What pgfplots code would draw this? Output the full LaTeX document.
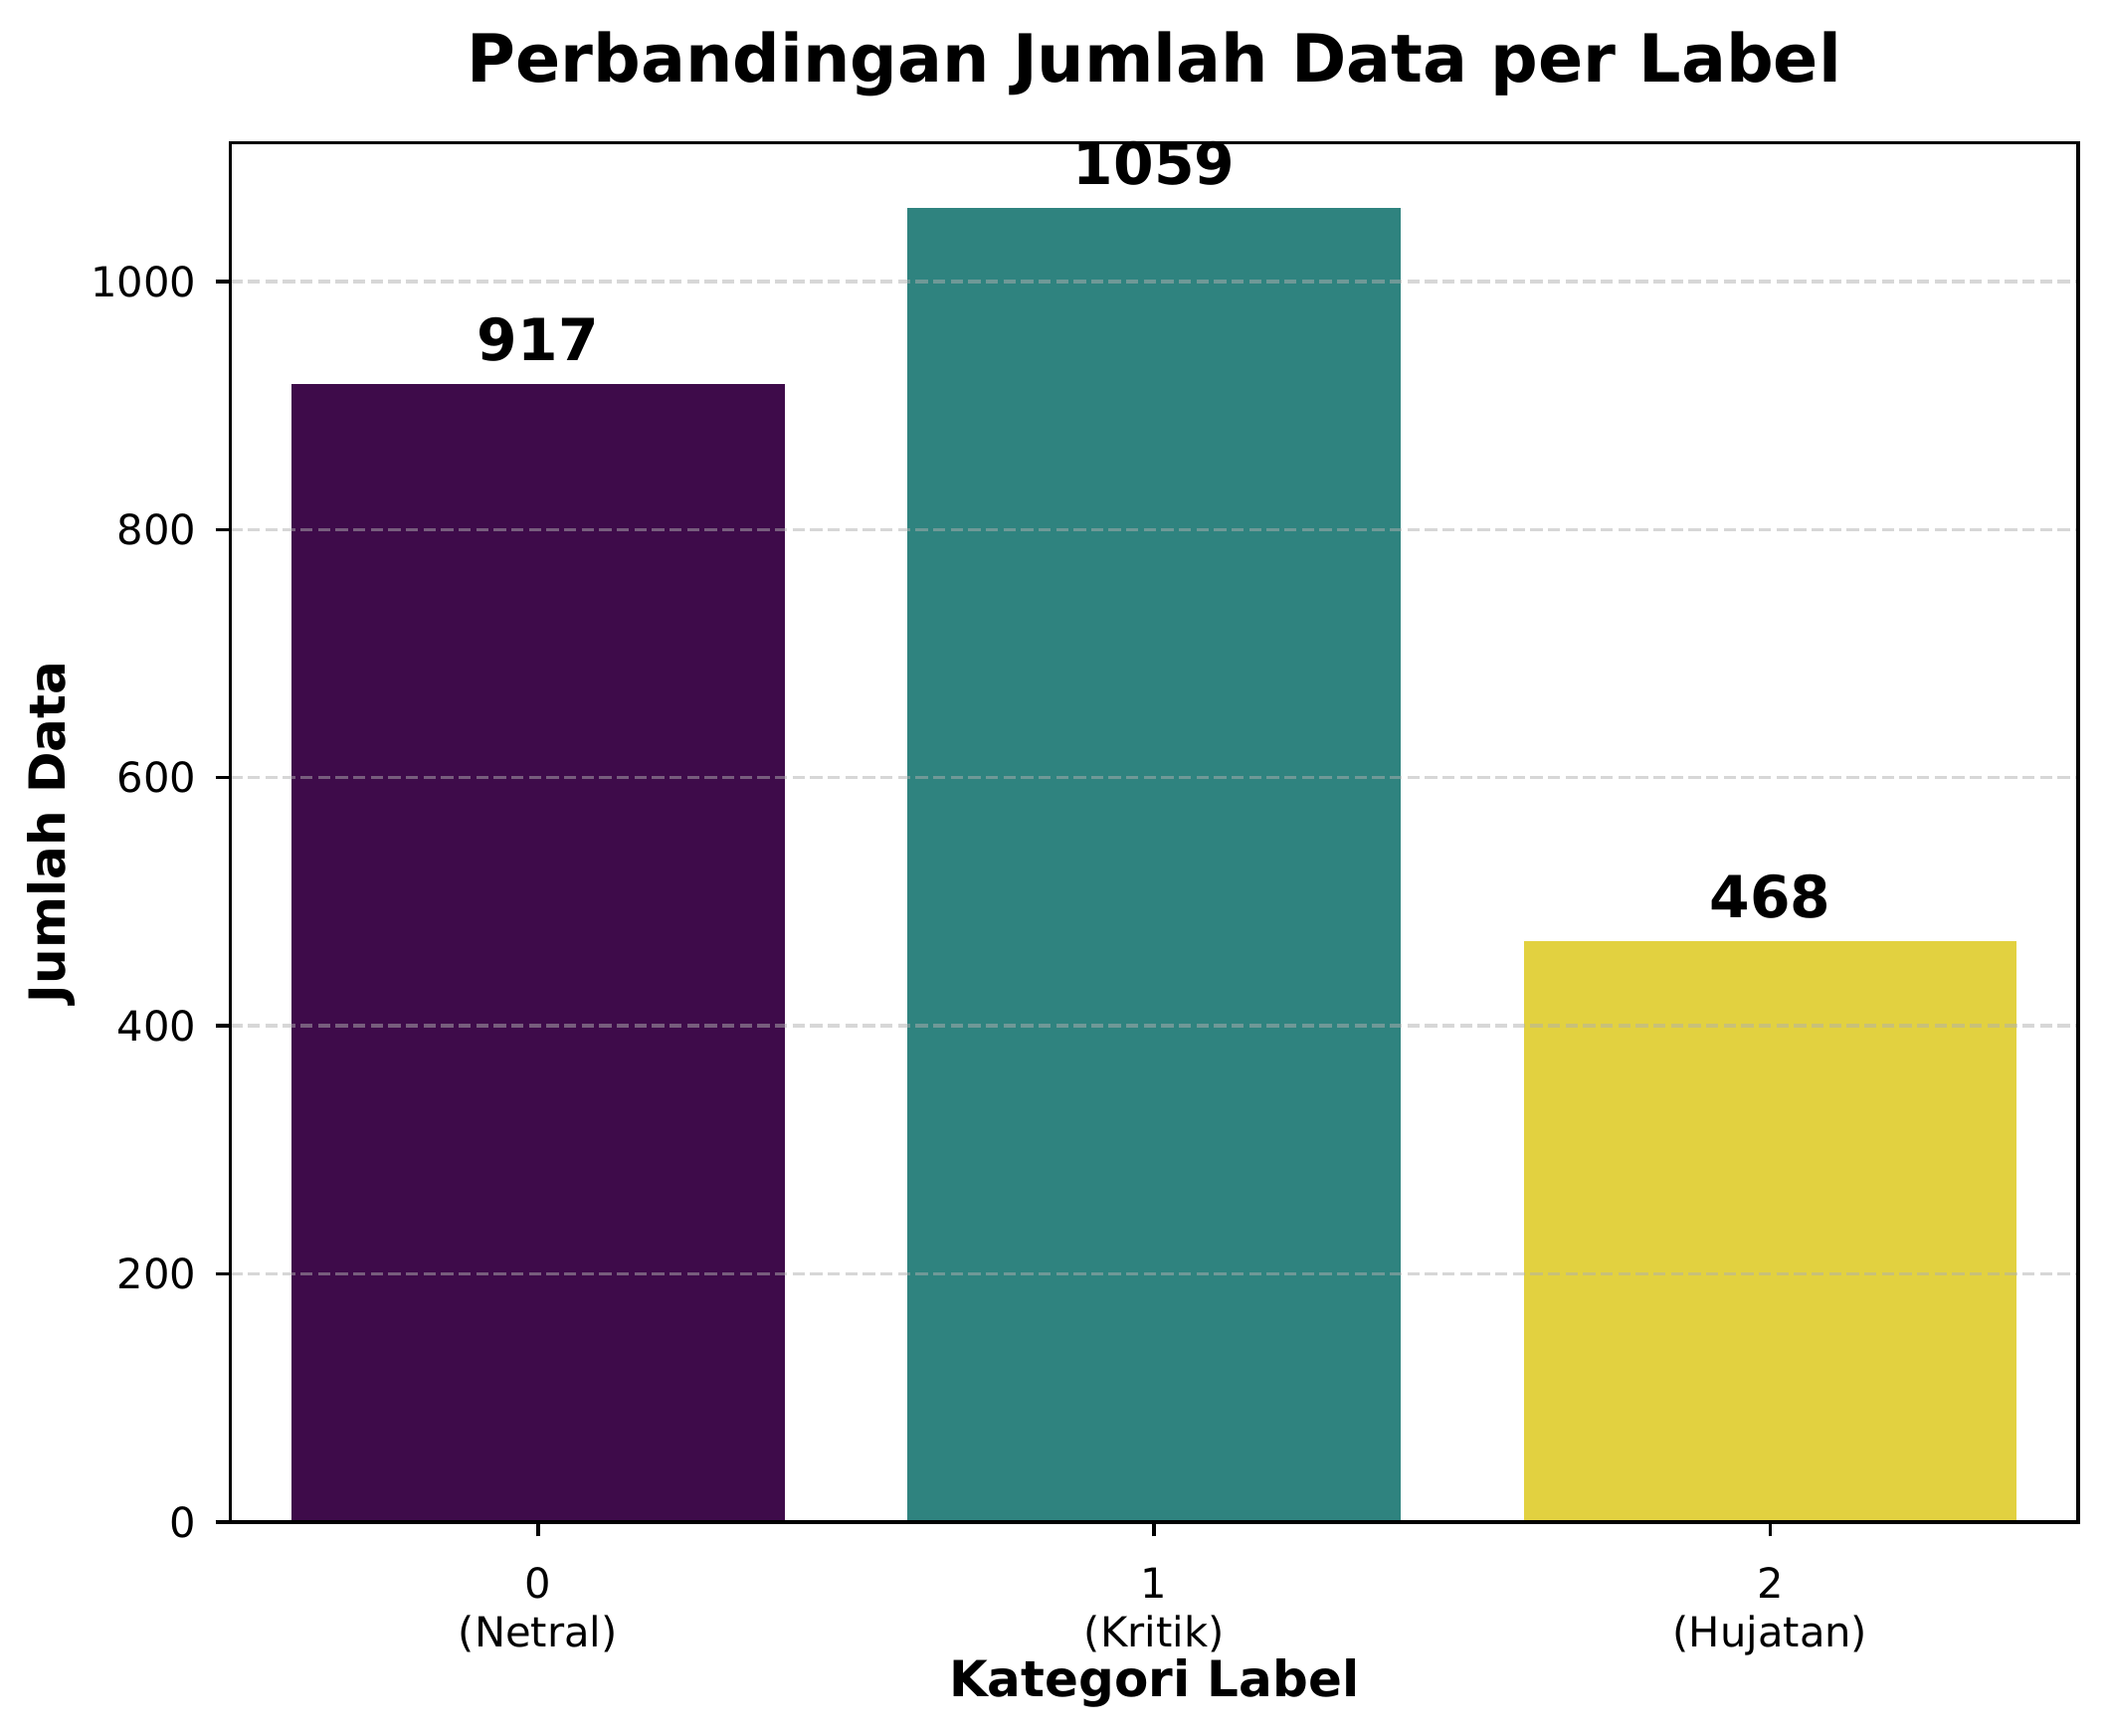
\documentclass[border=0pt]{standalone}
\usepackage{fontspec}
\setmainfont{DejaVu Sans}
\usepackage{pgfplots}
\pgfplotsset{compat=1.18}

\definecolor{cNetral}{RGB}{62,11,74}
\definecolor{cKritik}{RGB}{47,131,127}
\definecolor{cHujatan}{RGB}{226,209,64}
\definecolor{gridgray}{RGB}{176,176,176}

\begin{document}
\begin{tikzpicture}
\begin{axis}[
  scale only axis,
  width=445.9pt, height=332.8pt,
  xmin=-0.5, xmax=2.5,
  ymin=0, ymax=1112,
  axis on top,
  axis line style={black, line width=0.8pt},
  xtick={0,1,2},
  xticklabels={{0\\(Netral)},{1\\(Kritik)},{2\\(Hujatan)}},
  ytick={0,200,400,600,800,1000},
  xtick pos=bottom, ytick pos=left,
  tick align=outside,
  major tick length=3.5pt,
  tick style={black, line width=0.8pt},
  /pgf/number format/1000 sep={},
  /pgf/number format/assume math mode=true,
  xticklabel style={align=center, anchor=base, inner sep=0pt, yshift=-26.6pt,
    font=\fontsize{10}{11.8}\selectfont},
  yticklabel style={anchor=east, inner sep=0pt, xshift=-4.4pt,
    font=\fontsize{10}{12}\selectfont},
  ymajorgrids,
  major grid style={draw=gridgray, opacity=0.5, line width=0.8pt,
    dash pattern=on 2.96pt off 1.28pt},
  every axis title shift=0pt,
  title={Perbandingan Jumlah Data per Label},
  title style={at={(axis description cs:0.5,1.0439)}, anchor=base,
    font=\fontsize{16}{19.2}\selectfont\bfseries},
  xlabel={Kategori Label},
  xlabel style={at={(axis description cs:0.5,-0.1268)}, anchor=base,
    font=\fontsize{12}{14.4}\selectfont\bfseries},
  ylabel={Jumlah Data},
  ylabel style={at={(axis description cs:-0.0893,0.5)}, anchor=base, rotate=0,
    font=\fontsize{12}{14.4}\selectfont\bfseries},
  bar width=0.8,
  nodes near coords,
  every node near coord/.append style={anchor=base, inner sep=0pt, yshift=5.8pt,
    font=\fontsize{14}{16.8}\selectfont\bfseries, black},
]
\addplot[ybar, bar shift=0pt, fill=cNetral, draw=none] coordinates {(0,917)};
\addplot[ybar, bar shift=0pt, fill=cKritik, draw=none] coordinates {(1,1059)};
\addplot[ybar, bar shift=0pt, fill=cHujatan, draw=none] coordinates {(2,468)};
\coordinate (bl) at (rel axis cs:0,0);
\coordinate (tr) at (rel axis cs:1,1);
\end{axis}
\pgfresetboundingbox
\path ([shift={(-55.5pt,-51.4pt)}]bl) rectangle ([shift={(7.2pt,34.4pt)}]tr);
\end{tikzpicture}
\end{document}
